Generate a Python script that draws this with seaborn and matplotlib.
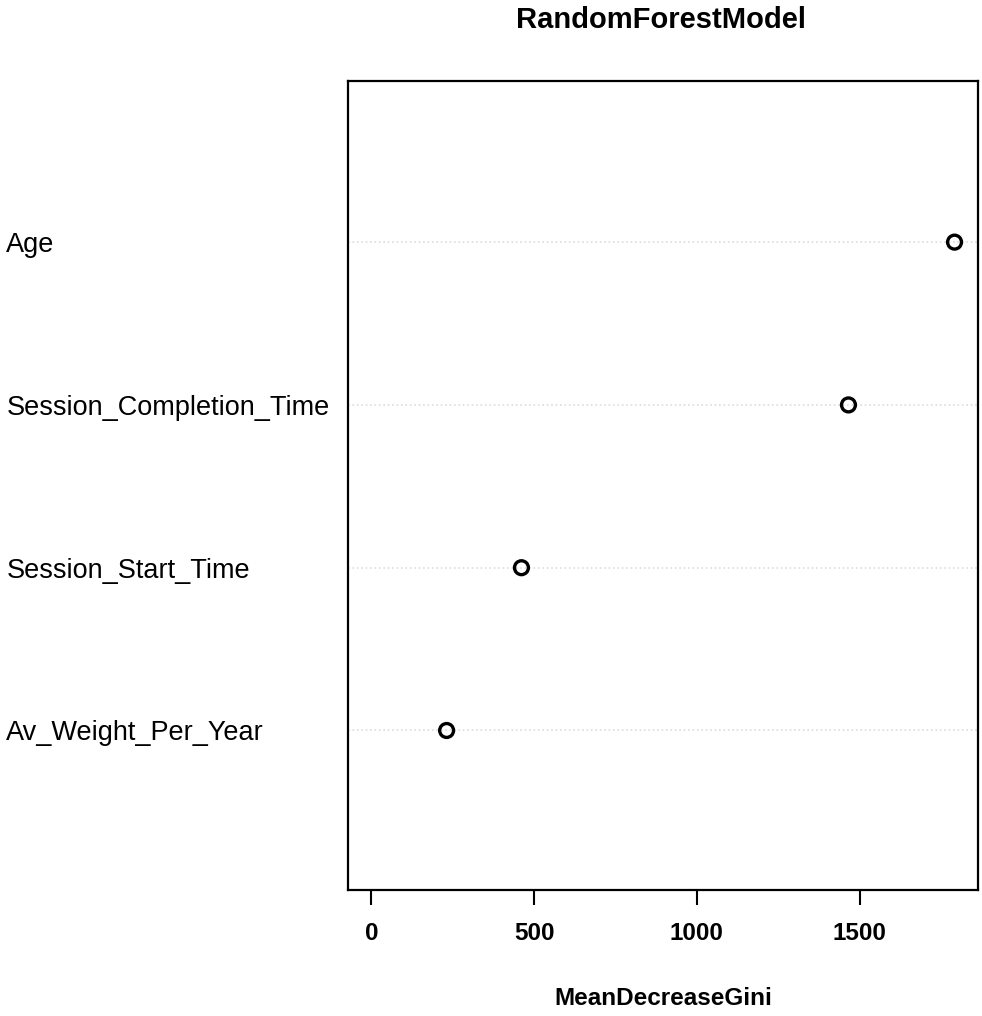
import matplotlib
matplotlib.use("Agg")
import matplotlib.pyplot as plt
import seaborn as sns
import pandas as pd

# variable importance from the random forest
features = ["Age", "Session_Completion_Time", "Session_Start_Time", "Av_Weight_Per_Year"]
gini = [1792, 1466, 461, 231]
x_ticks = [0, 500, 1000, 1500]

sns.set_theme(style="white")
plt.rcParams['font.family'] = ['Liberation Sans', 'DejaVu Sans']
plt.rcParams['text.color'] = 'black'
plt.rcParams['axes.labelcolor'] = 'black'
plt.rcParams['xtick.color'] = 'black'
plt.rcParams['ytick.color'] = 'black'

df = pd.DataFrame({"feature": features, "MeanDecreaseGini": gini})

fig = plt.figure(figsize=(9.82, 10.16), dpi=100)
ax = fig.add_axes([0.3544, 0.124, 0.6415, 0.7963])

# faint dotted guide lines like R's dotchart
for i in range(len(features)):
    ax.axhline(i, ls=':', color='#dcdcdc', lw=1.2, zorder=0)

sns.stripplot(data=df, x="MeanDecreaseGini", y="feature", jitter=False,
              size=10, color="black", linewidth=2.4, ax=ax, zorder=3)
for coll in ax.collections:
    coll.set_facecolor('none')
    coll.set_edgecolor('black')

ax.set_xlim(-72, 1864)
ax.set_ylim(3.98, -0.99)
ax.set_xticks(x_ticks)
ax.set_xticklabels([str(t) for t in x_ticks], fontsize=17.5, fontweight='bold')
ax.tick_params(axis='x', direction='out', length=11, width=1.5, pad=12, colors='black', bottom=True)

# row labels flush left in the margin
ax.set_yticks(range(len(features)))
ax.set_yticklabels(features, fontsize=19.5, ha='left', color='black')
ax.tick_params(axis='y', length=0, pad=246)

ax.set_xlabel("MeanDecreaseGini", fontsize=17.5, fontweight='bold', labelpad=30, color='black')
ax.set_ylabel("")

for sp in ax.spines.values():
    sp.set_visible(True)
    sp.set_color('black')
    sp.set_linewidth(1.6)

fig.text(0.6735, 1 - 28 / 1016, "RandomForestModel", ha='center', va='baseline',
         fontsize=21, fontweight='bold', color='black')

fig.savefig("out.png", dpi=100, facecolor='white')
